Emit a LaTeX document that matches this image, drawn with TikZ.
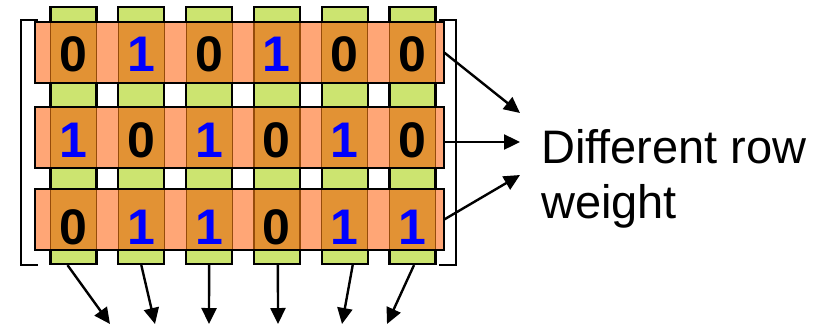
\documentclass[tikz,border=0pt]{standalone}
\usepackage{fontspec}
\setmainfont{Liberation Sans}
\usetikzlibrary{arrows.meta,calc}
\definecolor{grn}{RGB}{204,228,112}
\definecolor{salm}{RGB}{255,166,118}
\definecolor{ovl}{RGB}{226,146,52}
\definecolor{brn}{RGB}{150,75,10}
\definecolor{digblue}{RGB}{0,0,255}
\tikzset{
  colbox/.style={draw=black, line width=2.2pt, fill=grn, minimum width=46pt, minimum height=257pt, inner sep=0pt},
  rowbox/.style={fill=salm, minimum width=409pt, minimum height=61pt, inner sep=0pt},
  rowborder/.style={draw=black, line width=2.2pt},
  cell/.style={fill=ovl, draw=brn, line width=1.2pt},
  dig/.style={font=\fontsize{50}{50}\selectfont\bfseries, inner sep=0pt},
  zero/.style={dig, text=black},
  one/.style={dig, text=digblue},
  brack/.style={draw=black, line width=2.4pt},
  arr/.style={draw=black, line width=2.4pt, -{Triangle[length=16pt,width=15pt]}},
  lbl/.style={font=\fontsize{47}{55}\selectfont, align=left, inner sep=0pt, anchor=base west}
}
\begin{document}
\begin{tikzpicture}[x=1pt,y=-1pt]
\useasboundingbox (0,0) rectangle (819,327);
% brackets
\draw[brack] (38,20) -- (21,20) -- (21,265) -- (38,265);
\draw[brack] (439,20) -- (456,20) -- (456,265) -- (439,265);
% columns
\foreach \i/\x in {1/73.5,2/141.3,3/209.1,4/276.9,5/344.7,6/412.5}{
  \node[colbox] (col\i) at (\x,135.5) {};
}
% rows
\node[rowbox] (row1) at (239.5,52.5) {};
\node[rowbox] (row2) at (239.5,137.5) {};
\node[rowbox] (row3) at (239.5,219.5) {};
% overlap cells
\foreach \x in {73.5,141.3,209.1,276.9,344.7,412.5}{
  \foreach \y in {52.5,137.5,219.5}{
    \draw[cell] (\x-23,\y-30.5) rectangle (\x+23,\y+30.5);
  }
}
\foreach \r in {1,2,3}{
  \draw[rowborder] (row\r.north west) rectangle (row\r.south east);
}
% digits
\node[zero] (d11) at (73.5,54.5) {0};
\node[one]  (d12) at (141.3,54.5) {1};
\node[zero] (d13) at (209.1,54.5) {0};
\node[one]  (d14) at (276.9,54.5) {1};
\node[zero] (d15) at (344.7,54.5) {0};
\node[zero] (d16) at (412.5,54.5) {0};
\node[one]  (d21) at (73.5,140) {1};
\node[zero] (d22) at (141.3,140) {0};
\node[one]  (d23) at (209.1,140) {1};
\node[zero] (d24) at (276.9,140) {0};
\node[one]  (d25) at (344.7,140) {1};
\node[zero] (d26) at (412.5,140) {0};
\node[zero] (d31) at (73.5,227) {0};
\node[one]  (d32) at (141.3,227) {1};
\node[one]  (d33) at (209.1,227) {1};
\node[zero] (d34) at (276.9,227) {0};
\node[one]  (d35) at (344.7,227) {1};
\node[one]  (d36) at (412.5,227) {1};
% label (base anchor = last line baseline)
\node[lbl] (lab) at (541,218) {Different row\\weight};
% right arrows
\coordinate (t1) at (520,113);
\coordinate (t2) at (520,142);
\coordinate (t3) at (520,175);
\draw[arr] (row1.east) -- (t1);
\draw[arr] ($(row2.east)+(0,4.5)$) -- (t2);
\draw[arr] (row3.east) -- (t3);
% bottom arrows
\coordinate (b1) at (110,324);
\coordinate (b2) at (155,324);
\coordinate (b3) at (209,324);
\coordinate (b4) at (278,324);
\coordinate (b5) at (342,324);
\coordinate (b6) at (387,324);
\draw[arr] ($(col1.south)+(-6,0)$) -- (b1);
\draw[arr] (col2.south) -- (b2);
\draw[arr] (col3.south) -- (b3);
\draw[arr] ($(col4.south)+(1,0)$) -- (b4);
\draw[arr] ($(col5.south)+(8,0)$) -- (b5);
\draw[arr] ($(col6.south)+(1.5,0)$) -- (b6);
\end{tikzpicture}
\end{document}
